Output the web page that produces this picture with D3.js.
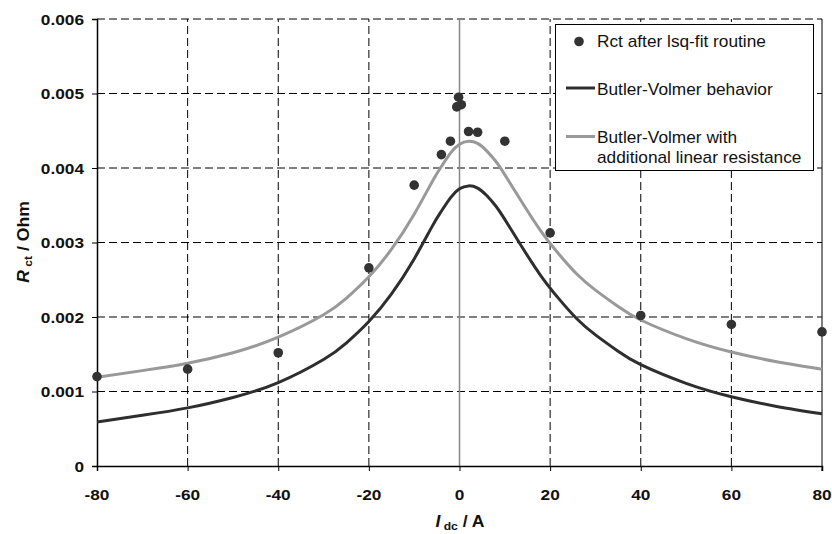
<!DOCTYPE html>
<html>
<head>
<meta charset="utf-8">
<script src="https://cdn.jsdelivr.net/npm/d3@7"></script>
<style>
  body { margin: 0; background: #fff; }
  svg { display: block; }
</style>
</head>
<body>
<div id="chart"></div>
<script>
// measured points (Rct after lsq-fit)
const currents = [-80, -60, -40, -20, -10, -4, -2, -0.6, -0.2, 0.4, 2, 4, 10, 20, 40, 60, 80];
const rctFit = [0.00120, 0.00130, 0.00152, 0.00266, 0.00377, 0.00418, 0.00436, 0.00482, 0.00495, 0.00485,
                0.00449, 0.00448, 0.00436, 0.00313, 0.00202, 0.00190, 0.00180];

// curves
const curveI = [-80, -70, -60, -50, -40, -30, -25, -20, -15, -10, -6, -4, -2, 0, 2, 4, 6, 8, 10,
                14, 18, 22, 26, 30, 35, 40, 50, 60, 70, 80];
const bvOnly = [0.00059, 0.00068, 0.00078, 0.00092, 0.00112, 0.00143, 0.00165, 0.00194, 0.00231, 0.00278,
                0.00322, 0.00342, 0.00360, 0.00372, 0.00376, 0.00373, 0.00363, 0.00349, 0.00331,
                0.00292, 0.00255, 0.00224, 0.00197, 0.00176, 0.00154, 0.00136, 0.00111, 0.00093, 0.00080, 0.00070];
const bvLinear = [0.00119, 0.00128, 0.00138, 0.00152, 0.00173, 0.00203, 0.00225, 0.00254, 0.00291, 0.00338,
                  0.00382, 0.00402, 0.00420, 0.00432, 0.00436, 0.00433, 0.00423, 0.00409, 0.00391,
                  0.00352, 0.00315, 0.00284, 0.00257, 0.00236, 0.00214, 0.00196, 0.00171, 0.00153, 0.00140, 0.00130];

const xTicks = [-80, -60, -40, -20, 0, 20, 40, 60, 80];
const yTicks = [0, 0.001, 0.002, 0.003, 0.004, 0.005, 0.006];
const legendLabels = ["Rct after lsq-fit routine", "Butler-Volmer behavior", "Butler-Volmer with", "additional linear resistance"];

const width = 832, height = 534;
const font = "'Liberation Sans', Arial, sans-serif";

const svg = d3.select("#chart").append("svg")
    .attr("width", width)
    .attr("height", height);

const x = d3.scaleLinear().domain([-80, 80]).range([97, 822]);
const y = d3.scaleLinear().domain([0, 0.006]).range([466, 19]);

// text that is a bit wider than the font (the original was stretched)
function wideText(g, px, py, sx) {
    return g.append("text").attr("transform", `translate(${px},${py}) scale(${sx},1)`);
}

// horizontal dashed gridlines
svg.append("g").selectAll("line")
    .data(yTicks.filter(d => d > 0))
    .join("line")
    .attr("x1", x(-80)).attr("x2", x(80))
    .attr("y1", d => y(d)).attr("y2", d => y(d))
    .attr("stroke", "#000")
    .attr("stroke-width", 1)
    .attr("stroke-dasharray", "8,4");

// vertical dashed gridlines
svg.append("g").selectAll("line")
    .data(xTicks.filter(d => d !== 0 && Math.abs(d) !== 80))
    .join("line")
    .attr("x1", d => x(d)).attr("x2", d => x(d))
    .attr("y1", y(0)).attr("y2", y(0.006))
    .attr("stroke", "#000")
    .attr("stroke-width", 1)
    .attr("stroke-dasharray", "8,4");

// zero current line
svg.append("line")
    .attr("x1", x(0)).attr("x2", x(0))
    .attr("y1", y(0)).attr("y2", y(0.006))
    .attr("stroke", "#888")
    .attr("stroke-width", 1.5);

// right border
svg.append("line")
    .attr("x1", x(80)).attr("x2", x(80))
    .attr("y1", y(0) + 5).attr("y2", y(0.006))
    .attr("stroke", "#000")
    .attr("stroke-width", 1);

// axes
const xAxis = svg.append("g")
    .attr("transform", `translate(0,${y(0)})`)
    .call(d3.axisBottom(x).tickValues(xTicks).tickSize(5).tickFormat(""));
const yAxis = svg.append("g")
    .attr("transform", `translate(${x(-80)},0)`)
    .call(d3.axisLeft(y).tickValues(yTicks).tickSize(5).tickFormat(""));
[xAxis, yAxis].forEach(a => {
    a.select(".domain").attr("stroke", "#000").attr("stroke-width", 1.5);
    a.selectAll(".tick line").attr("stroke", "#000");
});

// tick labels
xTicks.forEach(t => {
    wideText(svg, x(t), 500, 1.15)
        .attr("text-anchor", "middle")
        .attr("font-family", font)
        .attr("font-weight", "bold")
        .attr("font-size", "15px")
        .attr("fill", "#111")
        .text(String(t));
});
yTicks.forEach(t => {
    wideText(svg, 84, y(t) + 5.5, 1.15)
        .attr("text-anchor", "end")
        .attr("font-family", font)
        .attr("font-weight", "bold")
        .attr("font-size", "15px")
        .attr("fill", "#111")
        .text(t === 0 ? "0" : d3.format(".3f")(t));
});

// axis titles
const xTitle = wideText(svg, 460, 527, 1.1)
    .attr("text-anchor", "middle")
    .attr("font-family", font)
    .attr("font-weight", "bold")
    .attr("font-size", "16px")
    .attr("fill", "#111");
xTitle.append("tspan").attr("font-style", "italic").text("I");
xTitle.append("tspan").attr("font-size", "11px").attr("dy", 3).text(" dc");
xTitle.append("tspan").attr("dy", -3).text(" / A");

const yTitle = svg.append("text")
    .attr("transform", "translate(29,242) rotate(-90) scale(1.1,1)")
    .attr("text-anchor", "middle")
    .attr("font-family", font)
    .attr("font-weight", "bold")
    .attr("font-size", "16px")
    .attr("fill", "#111");
yTitle.append("tspan").attr("font-style", "italic").text("R");
yTitle.append("tspan").attr("font-size", "11px").attr("dy", 3).text(" ct");
yTitle.append("tspan").attr("dy", -3).text(" / Ohm");

// curves
const line = d3.line()
    .curve(d3.curveNatural)
    .x(d => x(d[0]))
    .y(d => y(d[1]));

svg.append("path")
    .datum(curveI.map((c, i) => [c, bvLinear[i]]))
    .attr("d", line)
    .attr("fill", "none")
    .attr("stroke", "#999")
    .attr("stroke-width", 3);

svg.append("path")
    .datum(curveI.map((c, i) => [c, bvOnly[i]]))
    .attr("d", line)
    .attr("fill", "none")
    .attr("stroke", "#2e2e2e")
    .attr("stroke-width", 3);

// points
svg.append("g").selectAll("circle")
    .data(currents.map((c, i) => [c, rctFit[i]]))
    .join("circle")
    .attr("cx", d => x(d[0]))
    .attr("cy", d => y(d[1]))
    .attr("r", 4.8)
    .attr("fill", "#333");

// legend
const legend = svg.append("g");
legend.append("rect")
    .attr("x", 555.5).attr("y", 24.5)
    .attr("width", 258).attr("height", 146)
    .attr("fill", "#fff")
    .attr("stroke", "#000")
    .attr("stroke-width", 1);

legend.append("circle")
    .attr("cx", 579).attr("cy", 41.5).attr("r", 4.8)
    .attr("fill", "#333");
legend.append("line")
    .attr("x1", 566).attr("x2", 595).attr("y1", 88).attr("y2", 88)
    .attr("stroke", "#2e2e2e").attr("stroke-width", 3);
legend.append("line")
    .attr("x1", 566).attr("x2", 595).attr("y1", 136.5).attr("y2", 136.5)
    .attr("stroke", "#999").attr("stroke-width", 3);

const legendY = [47, 95, 143, 163];
legendLabels.forEach((lab, i) => {
    wideText(legend, 597, legendY[i], 1.08)
        .attr("font-family", font)
        .attr("font-size", "16px")
        .attr("fill", "#111")
        .text(lab);
});
</script>
</body>
</html>
